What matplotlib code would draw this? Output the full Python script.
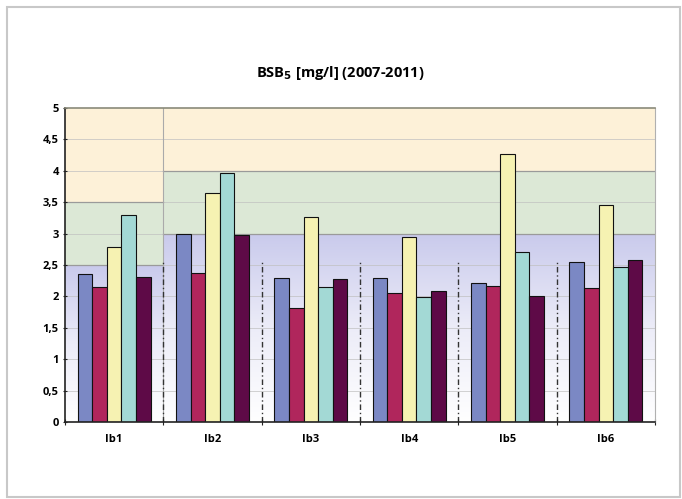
import numpy as np
import matplotlib
matplotlib.use("Agg")
import matplotlib.pyplot as plt
from matplotlib.patches import Rectangle
from matplotlib.colors import LinearSegmentedColormap

categories = ["Ib1", "Ib2", "Ib3", "Ib4", "Ib5", "Ib6"]
s_blue   = [2.35, 2.99, 2.30, 2.30, 2.21, 2.55]
s_red    = [2.15, 2.38, 1.82, 2.06, 2.17, 2.14]
s_yellow = [2.79, 3.64, 3.26, 2.95, 4.26, 3.45]
s_cyan   = [3.29, 3.96, 2.15, 1.99, 2.70, 2.47]
s_purple = [2.31, 2.98, 2.27, 2.09, 2.00, 2.58]
series = [s_blue, s_red, s_yellow, s_cyan, s_purple]
colors = ["#7b88c4", "#b0265c", "#f6f2b2", "#a3d9d5", "#5e0a47"]
yticks = [0, 0.5, 1, 1.5, 2, 2.5, 3, 3.5, 4, 4.5, 5]
ytick_labels = ["0", "0,5", "1", "1,5", "2", "2,5", "3", "3,5", "4", "4,5", "5"]
# class limits: (first category index, last category index, low limit, mid limit)
bands = [(0, 0, 2.5, 3.5), (1, 5, 3.0, 4.0)]

fig = plt.figure(figsize=(6.82, 4.99), dpi=100)
fig.patches.append(Rectangle((7/682, 2/499), 673/682, 490/499, transform=fig.transFigure,
                             fill=False, edgecolor="#c8c8c8", linewidth=1.5))
ax = fig.add_axes([65/682, 77/499, 590/682, 314/499])
n = len(categories)
ax.set_xlim(0, n)
ax.set_ylim(0, 5)

lav = LinearSegmentedColormap.from_list("lav", ["#ffffff", "#ececf8", "#c9caec"])
grad = np.linspace(0, 1, 256).reshape(-1, 1)
for c0, c1, lo, mid in bands:
    ax.imshow(grad, cmap=lav, aspect="auto", origin="lower",
              extent=(c0, c1 + 1, 0, lo), zorder=0)
    ax.add_patch(Rectangle((c0, lo), c1 + 1 - c0, mid - lo, facecolor="#dce8d6", edgecolor="none", zorder=0))
    ax.add_patch(Rectangle((c0, mid), c1 + 1 - c0, 5 - mid, facecolor="#fdf1d8", edgecolor="none", zorder=0))
    ax.plot([c0, c1 + 1], [lo, lo], color="#9a9a9a", lw=0.9, zorder=1)
    ax.plot([c0, c1 + 1], [mid, mid], color="#9a9a9a", lw=0.9, zorder=1)
ax.axvline(1, color="#aaaaaa", lw=0.8, zorder=1)

for y in yticks[1:-1]:
    ax.axhline(y, color="#c0c0c0", lw=0.5, zorder=0.5)
for b in range(1, n):
    ax.plot([b, b], [0, 2.55], color="#333333", lw=1.0, ls=(0, (4, 2, 1, 2)), zorder=1)

x = np.arange(n) + 0.5
bw = 0.148
for i, (vals, col) in enumerate(zip(series, colors)):
    ax.bar(x + (i - 2) * bw, vals, width=bw, color=col, edgecolor="#111111", linewidth=0.8, zorder=2)

ax.set_yticks(yticks)
ax.set_yticklabels(ytick_labels, fontsize=8, fontweight="bold", family="Open Sans")
ax.set_xticks(np.arange(n + 1))
ax.set_xticklabels([])
ax.set_xticks(x, minor=True)
ax.set_xticklabels(categories, minor=True, fontsize=8, fontweight="bold", family="Open Sans")
ax.tick_params(axis="x", which="minor", length=0, pad=9)
ax.tick_params(axis="x", which="major", length=4, direction="inout", color="#222222")
ax.tick_params(axis="y", length=3, direction="inout", pad=3, color="#222222")
for s in ["left", "bottom"]:
    ax.spines[s].set_color("#222222")
    ax.spines[s].set_linewidth(1.2)
ax.spines["top"].set_color("#8a8a7a")
ax.spines["top"].set_linewidth(1.2)
ax.spines["right"].set_color("#b0b0b0")
ax.spines["right"].set_linewidth(0.8)

fig.text(340/682, 1 - 73/499, r"BSB$_\mathbf{5}$ [mg/l] (2007-2011)", ha="center", va="center",
         fontsize=10.5, fontweight="bold", family="Open Sans")

fig.savefig("out.png", dpi=100)
